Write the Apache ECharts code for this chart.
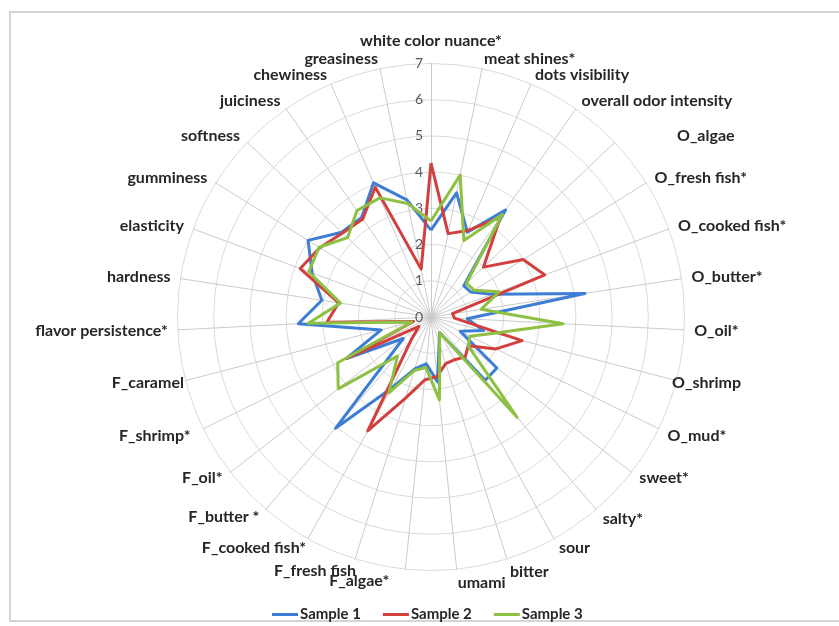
<!DOCTYPE html>
<html>
<head>
<meta charset="utf-8">
<script src="https://cdn.jsdelivr.net/npm/echarts@6/dist/echarts.min.js"></script>
<style>
html,body{margin:0;padding:0;background:#fff;}
#chart{width:839px;height:626px;}
</style>
</head>
<body>
<div id="chart"></div>
<script>
var attributes = ["white color nuance*","meat shines*","dots visibility","overall odor intensity","O_algae","O_fresh fish*","O_cooked fish*","O_butter*","O_oil*","O_shrimp","O_mud*","sweet*","salty*","sour","bitter","umami","F_algae*","F_fresh fish","F_cooked fish*","F_butter *","F_oil*","F_shrimp*","F_caramel","flavor persistence*","hardness","elasticity","gumminess","softness","juiciness","chewiness","greasiness"];
var sample1 = [2.4,3.5,2.55,3.6,1.25,1.3,1.8,4.3,1.0,1.5,0.9,2.3,2.3,0.5,0.75,1.8,1.3,1.5,2.25,4.05,0.97,2.6,1.42,3.67,3.05,3.5,4.0,3.4,3.35,4.03,3.3];
var sample2 = [4.25,2.35,2.6,3.35,2.0,3.0,3.35,0.6,0.65,2.6,2.0,1.3,1.45,1.35,1.35,1.65,1.75,2.35,3.6,0.85,0.42,2.6,0.5,2.88,2.58,3.85,3.62,3.37,3.3,3.9,1.35];
var sample3 = [2.65,4.0,2.3,3.45,1.35,1.4,2.0,1.4,3.65,1.8,1.2,1.3,3.65,0.5,0.8,2.3,1.4,1.55,2.4,1.42,3.24,2.87,0.55,3.39,2.53,3.6,3.64,3.18,3.58,3.58,3.2];
var seriesNames = ["Sample 1","Sample 2","Sample 3"];
var seriesColors = ["#3D7DD3","#D23F3D","#8DC043"];
var scaleMax = 7;

// small layout nudges for a few axis names (pixels: [dx, dy])
var nameNudge = {0:[0,-5], 4:[55,0], 9:[-14,0], 10:[0,3], 12:[0,2], 14:[0,3], 15:[0,4], 16:[-15,2], 17:[4,2], 18:[3,0], 21:[-4,3], 22:[8,0]};

// ECharts radar runs counter-clockwise; reorder so the attributes run clockwise from the top
var n = attributes.length;
var order = [];
for (var j = 0; j < n; j++) { order.push((n - j) % n); }
function reorder(arr) { return order.map(function(i){ return arr[i]; }); }

var rich = {};
attributes.forEach(function(name, i){
  var d = nameNudge[i] || [0, 0];
  var dx = d[0], dy = d[1];
  var pad;
  if (i === 0) {
    pad = [0, 0, -dy, 0];
  } else if (i <= 15) {
    pad = [dy > 0 ? 2*dy : 0, 0, dy < 0 ? -2*dy : 0, dx];
  } else {
    pad = [dy > 0 ? 2*dy : 0, -dx, dy < 0 ? -2*dy : 0, 0];
  }
  rich['t' + i] = {padding: pad, color: '#262626', fontFamily: 'Lato', fontWeight: 'bold', fontSize: 16};
});

var chart = echarts.init(document.getElementById('chart'));
var indicators = reorder(attributes).map(function(name, j){
  var o = {name: name, min: 0, max: scaleMax};
  if (j === 0) { o.axisLabel = {show: true}; }
  return o;
});
var values = [sample1, sample2, sample3].map(reorder);
chart.setOption({
  animation: false,
  graphic: [{
    type: 'rect', shape: {x: 10, y: 12, width: 840, height: 609},
    style: {fill: 'none', stroke: '#d4d4d4', lineWidth: 2}, silent: true
  }],
  legend: {
    bottom: -1, left: 267, itemWidth: 26, itemHeight: 3, itemGap: 22,
    icon: 'rect',
    textStyle: {fontFamily: 'Lato', fontWeight: 'bold', fontSize: 15, color: '#262626', padding: [0,0,0,-3]},
    data: seriesNames
  },
  radar: {
    center: [431, 317],
    radius: 253.5,
    shape: 'circle',
    startAngle: 90,
    splitNumber: 7,
    indicator: indicators,
    axisNameGap: 10,
    axisName: {
      color: '#262626', fontFamily: 'Lato', fontWeight: 'bold', fontSize: 16,
      formatter: function(name){ return '{t' + attributes.indexOf(name) + '|' + name + '}'; },
      rich: rich
    },
    axisLine: {lineStyle: {color: '#cacaca', width: 1}},
    splitLine: {lineStyle: {color: '#d9d9d9', width: 1}},
    splitArea: {show: false},
    axisTick: {show: false},
    axisLabel: {show: false, color: '#595959', fontFamily: 'Lato', fontSize: 14, margin: 8}
  },
  series: [{
    type: 'radar',
    symbol: 'none',
    data: seriesNames.map(function(name, k){
      return {name: name, value: values[k], lineStyle: {color: seriesColors[k], width: 3}, itemStyle: {color: seriesColors[k]}};
    })
  }]
});
</script>
</body>
</html>
